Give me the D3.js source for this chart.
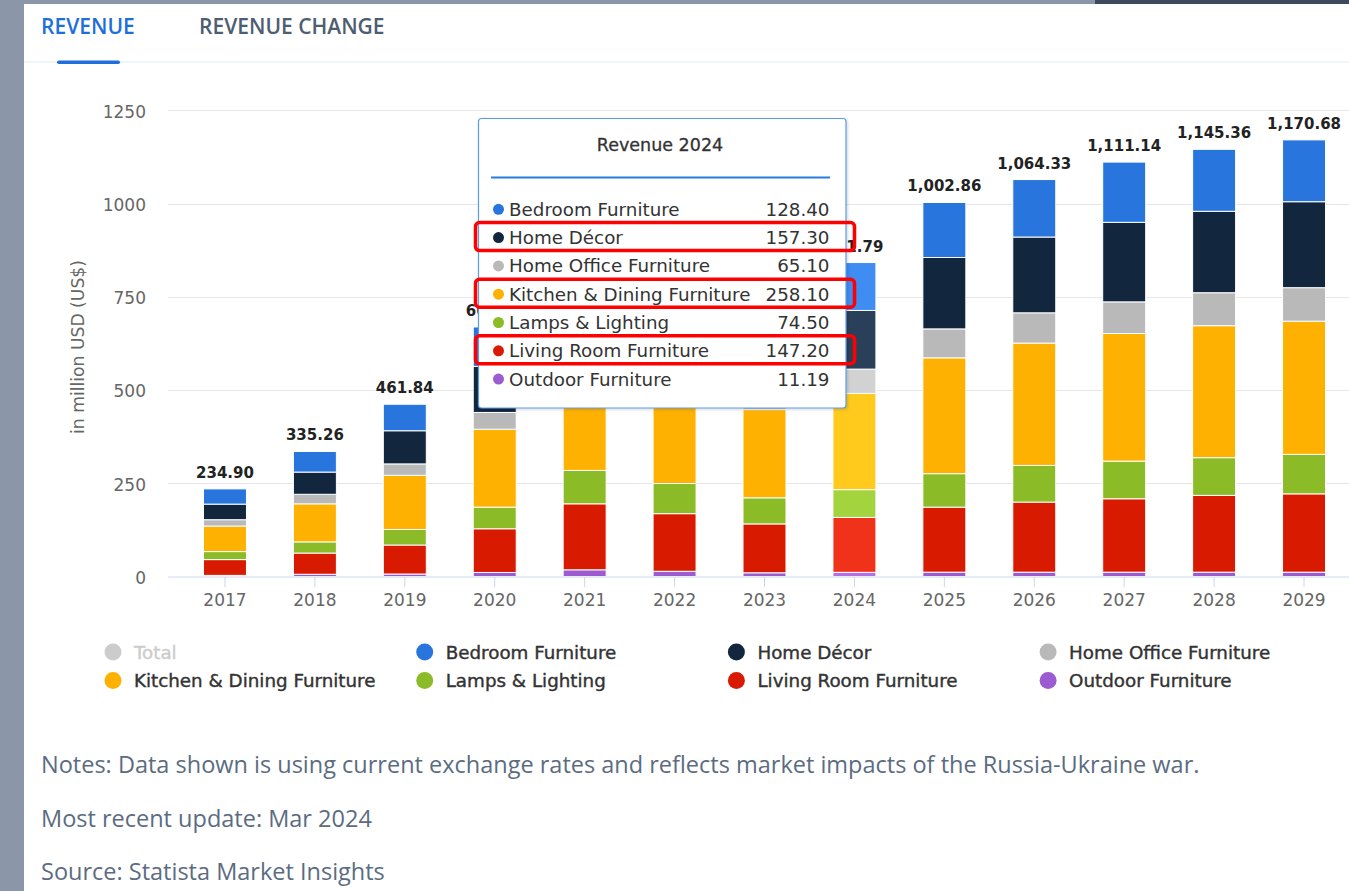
<!DOCTYPE html>
<html><head><meta charset="utf-8">
<script src="https://cdn.jsdelivr.net/npm/d3@7"></script>
<style>
html,body{margin:0;padding:0;background:#8b97a9;}
svg{display:block;}
</style></head>
<body>
<svg id="chart" width="1349" height="891"></svg>
<script>
// ---------- DATA ----------
const years = ["2017","2018","2019","2020","2021","2022","2023","2024","2025","2026","2027","2028","2029"];
const seriesNames = ["Outdoor Furniture","Living Room Furniture","Lamps & Lighting","Kitchen & Dining Furniture","Home Office Furniture","Home Décor","Bedroom Furniture"];
const outdoor    = [3, 6, 6.7, 10.8, 18, 14, 10, 11.19, 11.6, 11.6, 11.6, 11.6, 11.6];
const livingRoom = [42.3, 56.8, 77.7, 117.2, 176.9, 154.5, 131, 147.2, 174.4, 187.9, 196.8, 205.9, 210];
const lamps      = [21.5, 30, 41.7, 58, 89.5, 80.8, 70, 74.5, 89.7, 98.3, 101, 101.1, 105.9];
const kitchen    = [68.5, 102, 145.3, 208.9, 310, 270, 236.4, 258.1, 310.6, 328.1, 342.1, 353.9, 357.1];
const homeOffice = [17, 25.6, 30.5, 45, 78, 68, 60, 65.1, 77.6, 81.1, 84.9, 88.4, 89.8];
const homeDecor  = [41.8, 59.6, 88.9, 123.4, 189, 165, 144, 157.3, 191.4, 203.2, 213.2, 218.3, 230.5];
const bedroom    = [40.8, 55.26, 71.04, 105.7, 154, 135, 117, 128.4, 147.56, 154.13, 161.54, 166.16, 165.78];
const yTicks = [0, 250, 500, 750, 1000, 1250];
const legendNames = ["Total","Bedroom Furniture","Home Décor","Home Office Furniture","Kitchen & Dining Furniture","Lamps & Lighting","Living Room Furniture","Outdoor Furniture"];
const tooltipYear = "2024";
const tooltipOrder = ["Bedroom Furniture","Home Décor","Home Office Furniture","Kitchen & Dining Furniture","Lamps & Lighting","Living Room Furniture","Outdoor Furniture"];
const highlightedRows = ["Home Décor","Kitchen & Dining Furniture","Living Room Furniture"];
const notes = ["Notes: Data shown is using current exchange rates and reflects market impacts of the Russia-Ukraine war.","Most recent update: Mar 2024","Source: Statista Market Insights"];

// ---------- STYLE ----------
const colors = {
  "Bedroom Furniture":"#2876dd","Home Décor":"#12263d","Home Office Furniture":"#b9b9b9",
  "Kitchen & Dining Furniture":"#feb100","Lamps & Lighting":"#8bbb26","Living Room Furniture":"#d81b00",
  "Outdoor Furniture":"#9c5bd1","Total":"#cccccc"
};
const hoverColors = {
  "Bedroom Furniture":"#3f8cf2","Home Décor":"#2a3f59","Home Office Furniture":"#d2d2d2",
  "Kitchen & Dining Furniture":"#ffca1c","Lamps & Lighting":"#a3d43e","Living Room Furniture":"#f1321b",
  "Outdoor Furniture":"#b46fe6"
};

const svg = d3.select("#chart");
const W = 1349, H = 891;
svg.append("rect").attr("width",W).attr("height",H).attr("fill","#8b97a9");
svg.append("rect").attr("x",1095).attr("y",0).attr("width",W-1095).attr("height",5).attr("fill","#3e4a5c");
svg.append("rect").attr("x",24).attr("y",4).attr("width",W-24).attr("height",H-4).attr("fill","#ffffff");

const defs = svg.append("defs");
const f = defs.append("filter").attr("id","shadow").attr("x","-10%").attr("y","-10%").attr("width","130%").attr("height","130%");
f.append("feDropShadow").attr("dx",1).attr("dy",1).attr("stdDeviation",1.5).attr("flood-color","#000").attr("flood-opacity",0.18);

// Tabs
svg.append("text").attr("x",41).attr("y",26).attr("dominant-baseline","central")
  .attr("font-family","Open Sans").attr("font-weight",600).attr("font-size",21).attr("fill","#1e6fdb").text("REVENUE");
svg.append("text").attr("x",199).attr("y",26).attr("dominant-baseline","central")
  .attr("font-family","Open Sans").attr("font-weight",600).attr("font-size",21).attr("fill","#4d5d72").text("REVENUE CHANGE");
svg.append("rect").attr("x",24).attr("y",61).attr("width",W-24).attr("height",2).attr("fill","#f1f5fa");
svg.append("rect").attr("x",57).attr("y",60.5).attr("width",63).attr("height",3.5).attr("rx",1.75).attr("fill","#1e6fdb");

// Scales
const x = d3.scaleBand().domain(years).range([180, 1349]).paddingInner(0.522).paddingOuter(0.261);
const y = d3.scaleLinear().domain([0,1250]).range([576.5, 110.3]);

// Grid
const gridG = svg.append("g");
gridG.selectAll("line").data(yTicks.filter(d=>d>0)).join("line")
  .attr("x1",168).attr("x2",W).attr("y1",d=>Math.round(y(d))+0.5).attr("y2",d=>Math.round(y(d))+0.5)
  .attr("stroke","#e6e6e6").attr("stroke-width",1);

// Y axis via d3 axis (labels only)
const yAxis = svg.append("g").attr("transform","translate(146,0)")
  .call(d3.axisLeft(y).tickValues(yTicks).tickFormat(d3.format("d")).tickSize(0).tickPadding(0));
yAxis.select(".domain").remove();
yAxis.selectAll("text").attr("font-family","DejaVu Sans").attr("font-size",17).attr("fill","#666666").attr("dy","0.4em");

// Y title
svg.append("text").attr("transform","translate(78,347) rotate(-90)").attr("text-anchor","middle")
  .attr("dominant-baseline","central").attr("font-family","DejaVu Sans").attr("font-size",17.2).attr("fill","#666666")
  .text("in million USD (US$)");

// Stack
const table = years.map((yr,i)=>({year:yr,
  "Outdoor Furniture":outdoor[i],"Living Room Furniture":livingRoom[i],"Lamps & Lighting":lamps[i],
  "Kitchen & Dining Furniture":kitchen[i],"Home Office Furniture":homeOffice[i],"Home Décor":homeDecor[i],
  "Bedroom Furniture":bedroom[i]}));
const stacked = d3.stack().keys(seriesNames)(table);

const barsG = svg.append("g");
stacked.forEach(layer=>{
  barsG.append("g").selectAll("rect").data(layer).join("rect")
    .attr("x",d=>x(d.data.year)).attr("width",x.bandwidth())
    .attr("y",d=>y(d[1])).attr("height",d=>Math.max(0,y(d[0])-y(d[1])))
    .attr("fill",d=>d.data.year===tooltipYear ? hoverColors[layer.key] : colors[layer.key])
    .attr("stroke","#ffffff").attr("stroke-width",1);
});

// Baseline and x axis
svg.append("line").attr("x1",168).attr("x2",W).attr("y1",577).attr("y2",577).attr("stroke","#ccd6eb").attr("stroke-width",1);
const xAxis = svg.append("g").attr("transform","translate(0,577)")
  .call(d3.axisBottom(x).tickSize(10).tickPadding(10));
xAxis.select(".domain").remove();
xAxis.selectAll(".tick line").attr("stroke","#ccd6eb");
xAxis.selectAll("text").attr("font-family","DejaVu Sans").attr("font-size",17).attr("fill","#666666").attr("dy","0.55em");

// Tooltip geometry
const tx = 478.5, ty = 118.5, tw = 367.5, th = 289.5;

// Totals (labels fully hidden under the tooltip are not drawn; partial ones are clipped)
const clip = defs.append("clipPath").attr("id","outsideTip");
clip.append("path").attr("clip-rule","evenodd")
  .attr("d",`M0,0H${W}V${H}H0Z M${tx},${ty}H${tx+tw}V${ty+th}H${tx}Z`);
const totals = table.map(d=>({year:d.year,total:d3.sum(seriesNames,k=>d[k])}));
const totG = svg.append("g").attr("clip-path","url(#outsideTip)");
totG.selectAll("text").data(totals).join("text")
  .attr("x",d=>x(d.year)+x.bandwidth()/2).attr("y",d=>y(d.total)-11)
  .attr("text-anchor","middle").attr("font-family","DejaVu Sans").attr("font-weight","bold")
  .attr("font-size",15).attr("fill","#222222").text(d=>d3.format(",.2f")(d.total))
  .each(function(){
    const b = this.getBBox();
    if (b.x >= tx && b.x+b.width <= tx+tw && b.y >= ty && b.y+b.height <= ty+th) d3.select(this).remove();
  });

// Legend
const legG = svg.append("g");
legendNames.forEach((name,i)=>{
  const col = i%4, row = Math.floor(i/4);
  const cx = 113 + col*311.7, cy = 652 + row*28.5;
  legG.append("circle").attr("cx",cx).attr("cy",cy).attr("r",8.5).attr("fill",colors[name]);
  legG.append("text").attr("x",cx+21).attr("y",cy).attr("dominant-baseline","central")
    .attr("font-family","DejaVu Sans").attr("font-size",18.3)
    .attr("fill",name==="Total"?"#cccccc":"#333333")
    .attr("stroke",name==="Total"?"#cccccc":"#333333").attr("stroke-width",0.4)
    .text(name);
});

// Notes
notes.forEach((t,i)=>{
  svg.append("text").attr("x",41).attr("y",764+i*53.5).attr("dominant-baseline","central")
    .attr("font-family","Open Sans").attr("font-size",23.5).attr("fill","#5b6c82").text(t);
});

// Tooltip
const tip = svg.append("g");
tip.append("rect").attr("x",tx).attr("y",ty).attr("width",tw).attr("height",th).attr("rx",3)
  .attr("fill","#ffffff").attr("stroke","#5c9be8").attr("stroke-width",1.2).attr("filter","url(#shadow)");
tip.append("text").attr("x",660).attr("y",145).attr("text-anchor","middle").attr("dominant-baseline","central")
  .attr("font-family","DejaVu Sans").attr("font-size",17.5).attr("fill","#333333")
  .attr("stroke","#333333").attr("stroke-width",0.3).text("Revenue " + tooltipYear);
tip.append("line").attr("x1",491).attr("x2",830).attr("y1",177.5).attr("y2",177.5).attr("stroke","#2a7ae0").attr("stroke-width",2);
const yi = years.indexOf(tooltipYear);
const rowY = d3.scaleLinear().domain([0,1]).range([209.3, 237.6]);
tooltipOrder.forEach((name,i)=>{
  const cy = rowY(i);
  const v = table[yi][name];
  tip.append("circle").attr("cx",498.5).attr("cy",cy).attr("r",5.5).attr("fill",colors[name]);
  tip.append("text").attr("x",509).attr("y",cy).attr("dominant-baseline","central")
    .attr("font-family","DejaVu Sans").attr("font-size",18.3).attr("fill","#333333").text(name);
  tip.append("text").attr("x",829.5).attr("y",cy).attr("text-anchor","end").attr("dominant-baseline","central")
    .attr("font-family","DejaVu Sans").attr("font-size",18.3).attr("fill","#333333").text(d3.format(".2f")(v));
});
// Red annotation boxes
highlightedRows.forEach(name=>{
  const i = tooltipOrder.indexOf(name);
  const cy = rowY(i);
  svg.append("rect").attr("x",475.5).attr("y",cy-15).attr("width",379).attr("height",28).attr("rx",4)
    .attr("fill","none").attr("stroke","#ff0000").attr("stroke-width",3.5);
});
</script>
</body></html>
